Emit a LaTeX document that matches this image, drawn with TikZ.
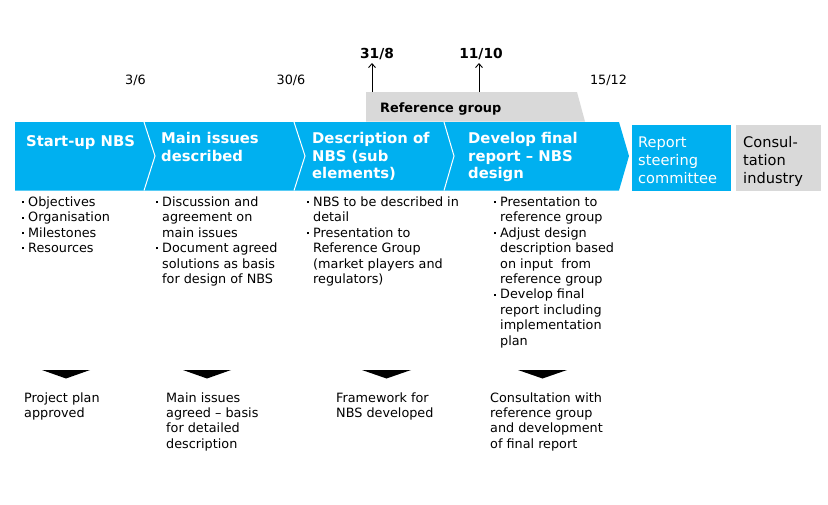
\documentclass[tikz,border=0pt]{standalone}
\usepackage{fontspec}
\setmainfont{DejaVu Sans}
\usetikzlibrary{arrows.meta}
\definecolor{nbsblue}{HTML}{00B0F0}
\definecolor{nbsgray}{HTML}{D9D9D9}
\newcommand\bsq{\llap{\rule[3.2pt]{2pt}{2pt}\hspace{4.5pt}}}
\newcommand\topstrut{\rule{0pt}{14pt}}
\tikzset{
  firstbase/.style={inner sep=0pt, anchor=north west, align=left, yshift=9.5pt, execute at begin node=\topstrut},
  body/.style={firstbase, font=\fontsize{12.8}{15.4}\selectfont},
  head/.style={firstbase, text=white, font=\fontsize{14.8}{17.6}\selectfont\bfseries},
  boxtext/.style={firstbase, font=\fontsize{14.6}{18}\selectfont},
  datebold/.style={inner sep=0pt, anchor=base, font=\fontsize{13.8}{16}\selectfont\bfseries},
  date/.style={inner sep=0pt, anchor=base, font=\fontsize{12.8}{15.4}\selectfont},
  milestone/.style={fill=black, draw=none},
  divider/.style={draw=white, line width=1pt},
  uparrow/.style={draw=black, line width=0.9pt, -{Straight Barb[length=4pt,width=7pt]}}
}
\begin{document}
\begin{tikzpicture}[x=1pt,y=-1pt]
\useasboundingbox (0,0) rectangle (828,504);
% reference group trapezoid
\fill[nbsgray] (366,92) -- (577,92) -- (585,121.5) -- (366,121.5) -- cycle;
\node[inner sep=0pt, anchor=base west, font=\fontsize{12.9}{15}\selectfont\bfseries] (refg) at (380,112.5) {Reference group};
% arrows to milestones
\coordinate (a1s) at (372,92);
\coordinate (a1e) at (372,63);
\coordinate (a2s) at (479,92);
\coordinate (a2e) at (479,63);
\draw[uparrow] (a1s) -- (a1e);
\draw[uparrow] (a2s) -- (a2e);
\node[datebold] (d318) at (377,58.3) {31/8};
\node[datebold] (d1110) at (481,58.3) {11/10};
\node[date] (d36) at (135.5,84) {3/6};
\node[date] (d306) at (291,84) {30/6};
\node[date] (d1512) at (608.5,84) {15/12};
% chevron band
\fill[nbsblue] (15,122) -- (619,122) -- (629,156) -- (619,190.5) -- (15,190.5) -- cycle;
\draw[divider] (144,122) -- (155,156) -- (144,190.5);
\draw[divider] (294,122) -- (305,156) -- (294,190.5);
\draw[divider] (444,122) -- (454,156) -- (444,190.5);
\node[head] (s1) at (26,141.7) {Start-up NBS};
\node[head] (s2) at (161,141.7) {Main issues\\described};
\node[head] (s3) at (312,141.7) {Description of\\NBS (sub\\elements)};
\node[head] (s4) at (468,141.7) {Develop final\\report – NBS\\design};
% right boxes
\fill[nbsblue] (632,125) rectangle (731,191);
\node[boxtext, text=white] (rsc) at (638,146) {Report\\steering\\committee};
\fill[nbsgray] (736,125) rectangle (821,191);
\node[boxtext, text=black] (ci) at (743,146) {Consul-\\tation\\industry};
% bullet lists
\node[body] (l1) at (28,206) {\bsq Objectives\\\bsq Organisation\\\bsq Milestones\\\bsq Resources};
\node[body] (l2) at (162,206) {\bsq Discussion and\\agreement on\\main issues\\\bsq Document agreed\\solutions as basis\\for design of NBS};
\node[body] (l3) at (313,206) {\bsq NBS to be described in\\detail\\\bsq Presentation to\\Reference Group\\(market players and\\regulators)};
\node[body] (l4) at (500,206) {\bsq Presentation to\\reference group\\\bsq Adjust design\\description based\\on input \ from\\reference group\\\bsq Develop final\\report including\\implementation\\plan};
% milestone triangles
\fill[milestone] (42,370) -- (90,370) -- (66,378.5) -- cycle;
\fill[milestone] (183,370) -- (231,370) -- (207,378.5) -- cycle;
\fill[milestone] (362,370) -- (411,370) -- (386.5,378.5) -- cycle;
\fill[milestone] (518,370) -- (567,370) -- (542.5,378.5) -- cycle;
% outcomes
\node[body] (o1) at (24,401.7) {Project plan\\approved};
\node[body] (o2) at (166,401.7) {Main issues\\agreed – basis\\for detailed\\description};
\node[body] (o3) at (336,401.7) {Framework for\\NBS developed};
\node[body] (o4) at (490,401.7) {Consultation with\\reference group\\and development\\of final report};
\end{tikzpicture}
\end{document}
